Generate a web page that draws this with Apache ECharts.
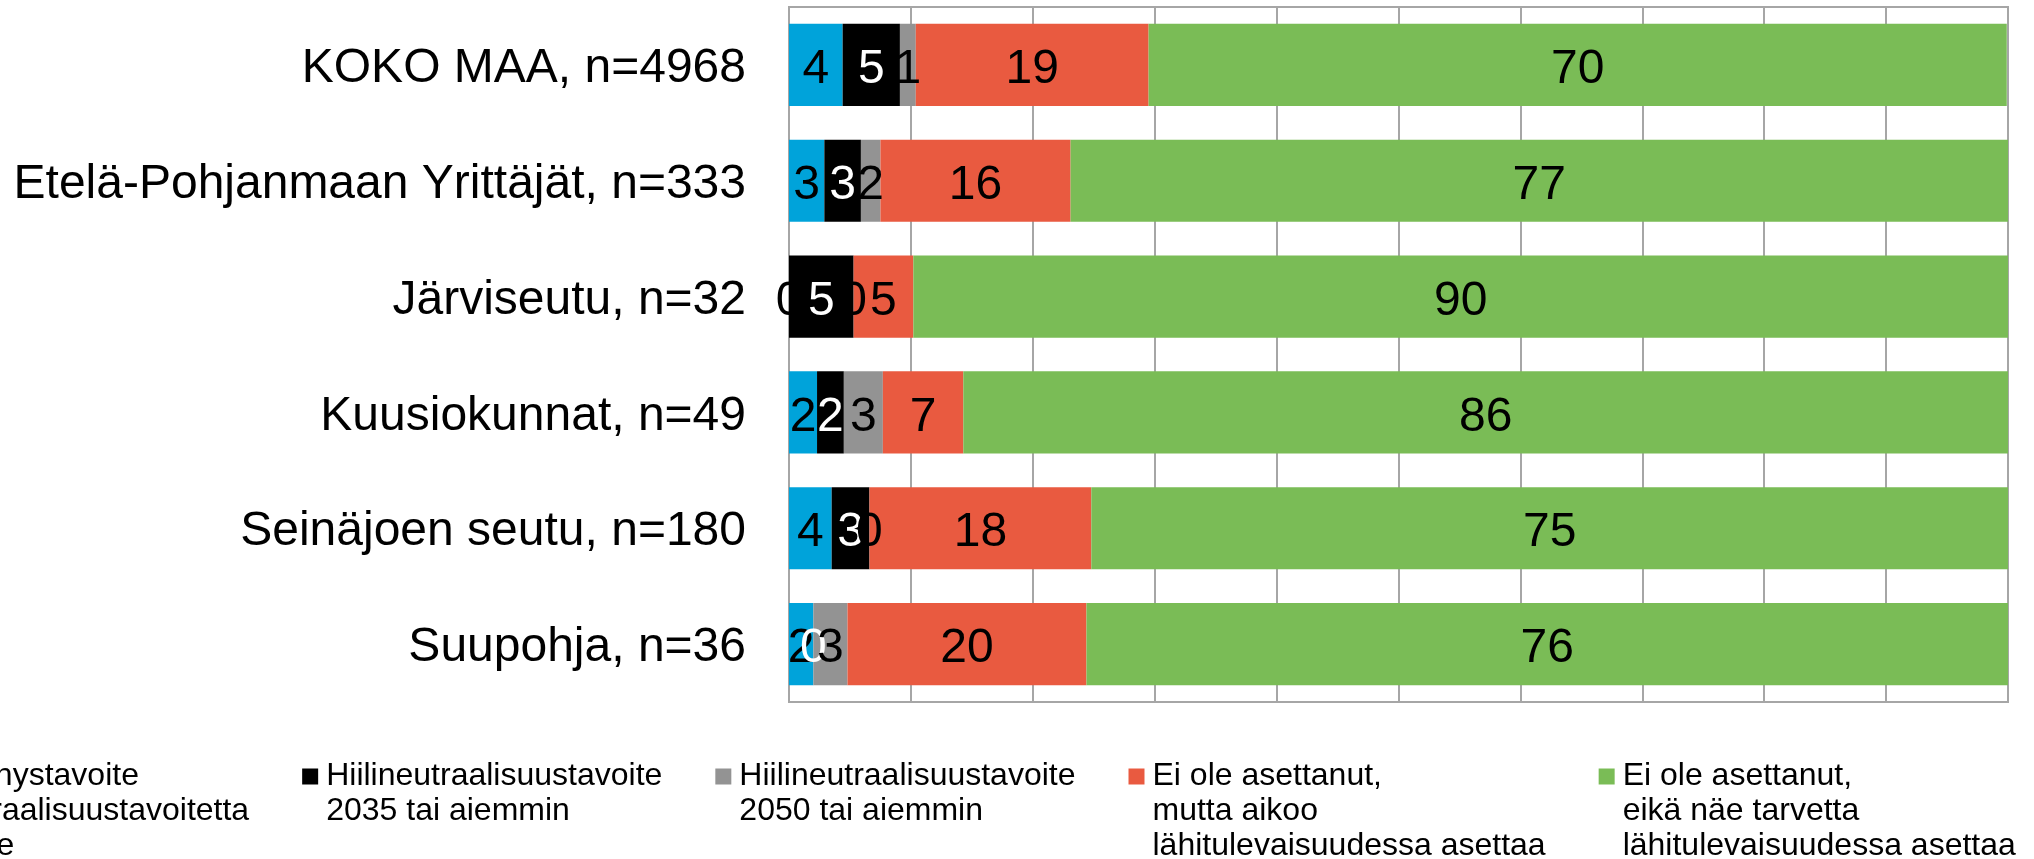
<!DOCTYPE html>
<html>
<head>
<meta charset="utf-8">
<title>Hiilineutraalisuustavoite</title>
<script src="https://cdn.jsdelivr.net/npm/echarts@6/dist/echarts.min.js"></script>
<style>
  html, body { margin: 0; padding: 0; background: #fff; }
  #main { width: 2034px; height: 859px; }
</style>
</head>
<body>
<div id="main"></div>
<script>
// alueet (ylhäältä alas)
var categories = [
  'KOKO MAA, n=4968',
  'Etelä-Pohjanmaan Yrittäjät, n=333',
  'Järviseutu, n=32',
  'Kuusiokunnat, n=49',
  'Seinäjoen seutu, n=180',
  'Suupohja, n=36'
];
// sarjojen nimet (legenda)
var seriesNames = [
  'On päästövähennystavoite\nmutta ei hiilineutraalisuustavoitetta\nmutta muu tavoite',
  'Hiilineutraalisuustavoite\n2035 tai aiemmin',
  'Hiilineutraalisuustavoite\n2050 tai aiemmin',
  'Ei ole asettanut,\nmutta aikoo\nlähitulevaisuudessa asettaa',
  'Ei ole asettanut,\neikä näe tarvetta\nlähitulevaisuudessa asettaa'
];
// prosentit
var blueVals  = [4.4, 2.9, 0, 2.3, 3.5, 2.0];
var blackVals = [4.7, 3.0, 5.3, 2.2, 3.1, 0];
var grayVals  = [1.3, 1.6, 0, 3.2, 0, 2.8];
var redVals   = [19.1, 15.6, 4.9, 6.6, 18.2, 19.6];
var greenVals = [70.4, 76.9, 89.8, 85.7, 75.2, 75.6];

var colors = ['#00A3DA', '#000000', '#939393', '#E95A40', '#7ABC56'];
var labelColors = ['#000', '#fff', '#000', '#000', '#000'];
var allVals = [blueVals, blackVals, grayVals, redVals, greenVals];

var font = '"Liberation Sans", Arial, sans-serif';
var lineH = 35;

var series = [];
for (var i = 0; i < allVals.length; i++) {
  series.push({
    name: seriesNames[i],
    type: 'bar',
    stack: 'total',
    barCategoryGap: '29%',
    data: allVals[i],
    itemStyle: { color: colors[i] },
    label: {
      show: true,
      position: 'inside',
      offset: [0, 5],
      color: labelColors[i],
      fontSize: 48,
      fontFamily: font,
      formatter: function (p) { return Math.round(p.value); }
    },
    emphasis: { disabled: true }
  });
}

var chart = echarts.init(document.getElementById('main'));
chart.setOption({
  animation: false,
  color: colors,
  grid: {
    left: 789, right: 26, top: 7, bottom: 157,
    show: true,
    borderColor: '#a6a6a6',
    borderWidth: 2
  },
  legend: {
    data: seriesNames,
    orient: 'horizontal',
    left: -264,
    top: 689,
    width: 2400,
    padding: 0,
    itemGap: 53,
    itemWidth: 16,
    itemHeight: 16,
    icon: 'rect',
    selectedMode: false,
    // tyhjät rivit eteen, jotta neliö osuu ensimmäiselle riville
    formatter: function (name) {
      var n = name.split('\n').length;
      var pre = '';
      for (var k = 1; k < n; k++) pre += '\n';
      return pre + name;
    },
    textStyle: {
      fontSize: 32,
      lineHeight: lineH,
      color: '#000',
      fontFamily: font,
      padding: [0, 0, 0, 3]
    }
  },
  xAxis: {
    type: 'value',
    min: 0,
    max: 100,
    interval: 10,
    axisLabel: { show: false },
    axisTick: { show: false },
    axisLine: { show: true, lineStyle: { color: '#a6a6a6', width: 2 } },
    splitLine: { show: true, lineStyle: { color: '#a6a6a6', width: 2 } }
  },
  yAxis: {
    type: 'category',
    inverse: true,
    data: categories,
    axisTick: { show: false },
    axisLine: { show: true, lineStyle: { color: '#a6a6a6', width: 2 } },
    axisLabel: {
      fontSize: 48,
      color: '#000',
      fontFamily: font,
      margin: 43,
      verticalAlign: 'top',
      lineHeight: 8
    }
  },
  series: series
});
</script>
</body>
</html>
